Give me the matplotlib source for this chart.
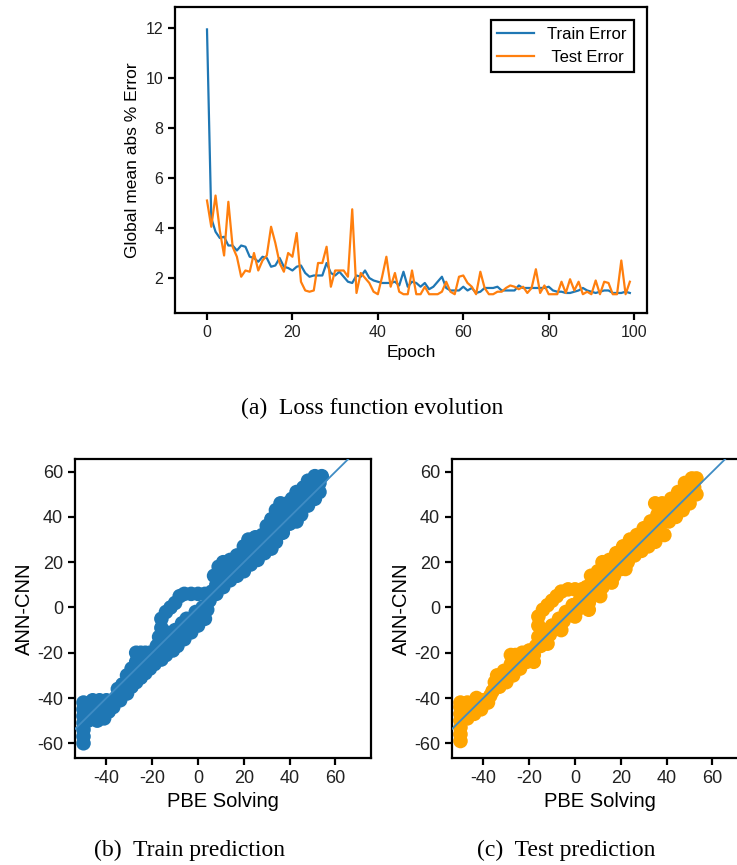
import matplotlib
matplotlib.use("Agg")
import matplotlib.pyplot as plt

plt.rcParams['font.family'] = ['Liberation Sans', 'DejaVu Sans']
plt.rcParams['axes.unicode_minus'] = False

# ---- (a) loss evolution ----
epochs = list(range(100))
train_err = [11.95, 4.4, 3.85, 3.6, 3.65, 3.3, 3.3, 3.1, 3.3, 3.25,
             2.85, 2.8, 2.65, 2.85, 2.8, 2.45, 2.5, 2.8, 2.45, 2.4,
             2.3, 2.45, 2.5, 2.2, 2.05, 2.1, 2.1, 2.1, 2.6, 2.2,
             2.1, 2.25, 2.05, 1.85, 1.8, 2.1, 2.05, 2.3, 2.0, 1.9,
             1.85, 1.8, 1.8, 1.8, 1.85, 1.7, 2.25, 1.65, 1.85, 1.8,
             1.65, 1.8, 1.55, 1.65, 1.85, 2.05, 1.6, 1.5, 1.5, 1.5,
             1.65, 1.5, 1.6, 1.4, 1.45, 1.6, 1.6, 1.6, 1.65, 1.5,
             1.5, 1.5, 1.5, 1.7, 1.6, 1.6, 1.6, 1.6, 1.6, 1.6,
             1.65, 1.5, 1.45, 1.45, 1.4, 1.4, 1.45, 1.5, 1.6, 1.5,
             1.45, 1.4, 1.45, 1.5, 1.5, 1.4, 1.4, 1.4, 1.45, 1.4]
test_err = [5.1, 4.05, 5.3, 3.9, 2.9, 5.05, 3.25, 2.85, 2.05, 2.3,
            2.25, 3.0, 2.3, 2.7, 2.9, 4.05, 3.4, 2.6, 2.25, 3.0,
            2.85, 3.8, 1.85, 1.5, 1.45, 1.5, 2.6, 2.6, 3.25, 1.65,
            2.3, 2.3, 2.3, 2.05, 4.75, 1.4, 2.2, 2.0, 1.8, 1.45,
            1.35, 2.05, 2.85, 1.65, 2.2, 1.45, 1.35, 1.35, 2.3, 1.35,
            1.35, 1.65, 1.35, 1.35, 1.35, 1.45, 1.85, 1.45, 1.35, 2.05,
            2.1, 1.8, 1.65, 1.35, 2.25, 1.6, 1.35, 1.35, 1.45, 1.45,
            1.6, 1.7, 1.65, 1.55, 1.65, 1.4, 1.6, 2.35, 1.4, 1.7,
            1.35, 1.35, 1.35, 1.85, 1.4, 1.95, 1.5, 1.85, 1.35, 1.45,
            1.35, 1.9, 1.35, 1.85, 1.8, 1.35, 1.35, 2.7, 1.35, 1.85]

# ---- (b) train prediction: (PBE value, ANN-CNN value) ----
train_pts = [
    (-50, -60), (-50, -57), (-50, -54), (-50, -51), (-50, -48), (-50, -45), (-50, -42),
    (-48, -50), (-47, -46), (-47, -43), (-46, -41), (-44, -50), (-44, -46), (-44, -43),
    (-43, -41), (-41, -49), (-41, -45), (-41, -42), (-40, -41), (-39, -46), (-39, -43),
    (-37, -44), (-36, -40), (-35, -36), (-34, -41), (-33, -38), (-33, -34), (-31, -38),
    (-31, -34), (-31, -30), (-29, -35), (-29, -32), (-29, -27), (-27, -33), (-27, -29),
    (-27, -24), (-27, -20), (-25, -31), (-25, -27), (-25, -23), (-25, -20), (-23, -29),
    (-23, -25), (-23, -20), (-21, -27), (-21, -23), (-21, -20),
    (-19, -25), (-19, -21), (-18, -17), (-17, -13), (-16, -9), (-16, -23), (-16, -19),
    (-15, -15), (-14, -11), (-14, -21), (-13, -17), (-12, -13), (-11, -19), (-10, -15),
    (-10, -10), (-9, -17), (-8, -12), (-7, -7), (-6, -14), (-5, -9), (-5, -5),
    (-3, -11), (-2, -6), (-1, -2), (0, -8), (1, -4), (2, 0), (3, -5), (4, -1), (5, 3),
    (-16, -5), (-14, -2), (-12, 0), (-10, 2), (-8, 5), (-6, 6), (-3, 6), (0, 6),
    (3, 6), (6, 7),
    (7, 14), (8, 10), (8, 6), (9, 18), (10, 14), (11, 9), (11, 20), (12, 16), (14, 12),
    (14, 21), (15, 17), (17, 14), (17, 23), (18, 19), (20, 16), (20, 27), (21, 23),
    (22, 30), (23, 19), (24, 26), (25, 31), (26, 21), (27, 27), (28, 32), (29, 24),
    (30, 36), (31, 30), (32, 26), (32, 39), (33, 34), (34, 29), (34, 43), (35, 38),
    (36, 46), (37, 33), (38, 41), (39, 46), (40, 37), (41, 48), (42, 43), (43, 38),
    (43, 51), (45, 46), (45, 41), (46, 53), (47, 49), (48, 45), (48, 56), (50, 52),
    (51, 48), (51, 58), (53, 55), (53, 51), (54, 58),
]

# ---- (c) test prediction ----
test_pts = [
    (-50, -59), (-50, -56), (-50, -53), (-50, -50), (-50, -47), (-50, -44), (-50, -42),
    (-47, -49), (-47, -45), (-47, -42), (-44, -47), (-44, -43), (-43, -40), (-41, -45),
    (-40, -41), (-38, -42), (-37, -39),
    (-36, -37), (-35, -33), (-34, -30), (-33, -35), (-32, -31), (-31, -28), (-30, -33),
    (-29, -29), (-28, -25), (-28, -21), (-27, -30), (-26, -26), (-26, -21), (-24, -27),
    (-24, -23), (-23, -20), (-21, -24), (-20, -21), (-20, -19), (-18, -21), (-17, -17),
    (-16, -13), (-15, -17), (-14, -14), (-13, -10), (-11, -12), (-10, -8), (-8, -9),
    (-7, -5), (-5, -6), (-4, -2), (-2, -3), (-1, 1), (1, -1), (2, 3), (4, 1), (5, 5),
    (6, 2), (7, 8),
    (-18, -24), (-12, -16), (-6, -10), (0, -4), (6, -1), (11, 5), (16, 11), (22, 17),
    (-16, -8), (-16, -4), (-14, -1), (-12, 1), (-10, 3), (-8, 5), (-6, 7), (-3, 8),
    (0, 8), (3, 8), (5, 9),
    (7, 14), (8, 11), (9, 6), (10, 16), (11, 12), (12, 9), (12, 20), (13, 16), (14, 12),
    (15, 21), (16, 17), (17, 14), (18, 24), (19, 20), (20, 17), (21, 27), (22, 23),
    (23, 20), (24, 30), (25, 26), (26, 23), (27, 32), (28, 28), (29, 25), (30, 35),
    (31, 31), (32, 27), (33, 38), (34, 33), (35, 46), (35, 29), (36, 41), (37, 36),
    (38, 46), (39, 32), (40, 43), (41, 38), (42, 48), (43, 44), (44, 40), (45, 51),
    (46, 47), (47, 43), (48, 55), (49, 50), (50, 46), (51, 57), (52, 53), (53, 57),
    (53, 50),
]

scatter_ticks = [-60, -40, -20, 0, 20, 40, 60]


def style_axes(ax, tick_size):
    for sp in ax.spines.values():
        sp.set_linewidth(1.6)
        sp.set_color('black')
    ax.tick_params(direction='out', length=5, width=1.6, labelsize=tick_size,
                   colors='black', labelcolor='#222222')


fig = plt.figure(figsize=(7.37, 8.65), dpi=100)

ax1 = fig.add_axes([0.2374, 0.6382, 0.6404, 0.3538])
ax1.plot(epochs, train_err, color='#1f77b4', lw=1.6, label='Train Error')
ax1.plot(epochs, test_err, color='#ff7f0e', lw=1.6, label=' Test Error')
ax1.set_xlim(-7.5, 103)
ax1.set_ylim(0.6, 12.85)
ax1.set_xticks([0, 20, 40, 60, 80, 100])
ax1.set_yticks([2, 4, 6, 8, 10, 12])
ax1.set_xlabel('Epoch', fontsize=12.5)
ax1.set_ylabel('Global mean abs % Error', fontsize=12.5)
style_axes(ax1, 11.5)
leg = ax1.legend(loc='upper right', fontsize=12, fancybox=False, framealpha=1,
                 edgecolor='black', handlelength=2.2, borderaxespad=0.8)
leg.get_frame().set_linewidth(1.6)

panels = [
    (train_pts, '#1f77b4', [0.1018, 0.1237, 0.4016, 0.3457]),
    (test_pts, '#ffa500', [0.6133, 0.1237, 0.4016, 0.3457]),
]
for pts, col, rect in panels:
    ax = fig.add_axes(rect)
    xs = [p[0] for p in pts]
    ys = [p[1] for p in pts]
    ax.scatter(xs, ys, s=110, color=col, edgecolors='none', zorder=2)
    ax.axline((0, 0), slope=1, color='#3f8cc4', lw=1.3, zorder=3)
    ax.set_xlim(-53.7, 75.5)
    ax.set_ylim(-66.5, 65.6)
    ax.set_xticks(scatter_ticks[1:])
    ax.set_yticks(scatter_ticks)
    ax.set_xlabel('PBE Solving', fontsize=14.5)
    ax.set_ylabel('ANN-CNN', fontsize=14.5, labelpad=2)
    style_axes(ax, 13)

serif = ['Liberation Serif', 'DejaVu Serif']
fig.text(0.505, 0.528, '(a)  Loss function evolution', ha='center', va='center',
         fontsize=17, family=serif)
fig.text(0.257, 0.017, '(b)  Train prediction', ha='center', va='center',
         fontsize=17, family=serif)
fig.text(0.768, 0.017, '(c)  Test prediction', ha='center', va='center',
         fontsize=17, family=serif)

fig.savefig('out.png', dpi=100)
